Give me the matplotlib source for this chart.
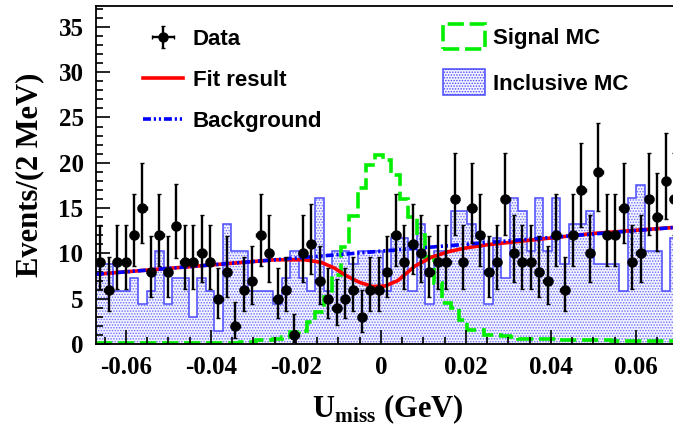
import math
import numpy as np
import matplotlib
matplotlib.use('Agg')
import matplotlib.pyplot as plt
from matplotlib.patches import Patch
from matplotlib.lines import Line2D
from matplotlib.ticker import MultipleLocator

# binning: 69 bins, ~2 MeV each
x_lo, x_hi, n_bins = -0.067, 0.070, 69

# data counts per bin
data_counts = [9, 6, 9, 9, 12, 15, 8, 12, 8, 13, 9, 9, 10, 9, 5, 8, 2, 6,
               7, 12, 10, 5, 6, 1, 10, 11, 7, 5, 4, 5, 6, 3, 6, 6, 8, 12,
               9, 11, 10, 8, 9, 9, 16, 9, 15, 12, 8, 9, 16, 10, 9, 9, 8, 7,
               12, 6, 12, 17, 10, 19, 12, 12, 15, 9, 10, 16, 14, 18, 16]

# inclusive MC (raw counts, scaled to data)
incl_mc_raw = [6, 6, 4, 4, 5, 3, 4, 7, 3, 5, 5, 2, 5, 4, 1, 9, 7, 7,
               4, 4, 4, 3, 5, 7, 5, 4, 11, 4, 7, 7, 6, 7, 7, 7, 4, 8,
               8, 4, 9, 3, 7, 7, 10, 10, 9, 8, 3, 8, 5, 11, 10, 7, 11, 7,
               11, 6, 9, 9, 10, 6, 6, 6, 4, 11, 12, 7, 7, 4, 8]
incl_mc_scale = 1.466

# signal MC shape
signal_mc = [0.1, 0.1, 0.1, 0.1, 0.1, 0.1, 0.1, 0.1, 0.1, 0.1, 0.1, 0.1,
             0.1, 0.1, 0.1, 0.1, 0.1, 0.2, 0.25, 0.4, 0.45, 0.5, 0.8, 1.3,
             1.4, 2.4, 3.5, 5.2, 7.6, 10.7, 14.1, 17.2, 19.8, 20.9, 20.3,
             18.7, 16.0, 14.0, 12.0, 9.6, 6.7, 4.5, 4.0, 2.6, 1.5, 1.5, 1.0,
             1.0, 0.9, 0.8, 0.6, 0.6, 0.5, 0.5, 0.5, 0.45, 0.45, 0.45, 0.4,
             0.4, 0.4, 0.35, 0.35, 0.35, 0.3, 0.3, 0.3, 0.3, 0.3]

# fit result curve
fit_x = [-0.067, -0.040, -0.025, -0.018, -0.014, -0.011, -0.008, -0.005,
         -0.002, 0.001, 0.004, 0.008, 0.012, 0.016, 0.020, 0.025, 0.030,
         0.037, 0.050, 0.070]
fit_y = [7.7, 8.72, 9.29, 9.3, 9.0, 8.4, 7.5, 6.8, 6.35, 6.4, 7.0, 8.6,
         9.6, 10.2, 10.6, 10.95, 11.2, 11.55, 12.2, 12.9]

# background (linear)
bkg_x = [-0.067, 0.070]
bkg_y = [7.7, 12.9]


def pois_cdf(n, mu):
    s, term = 0.0, math.exp(-mu)
    for k in range(n + 1):
        s += term
        term *= mu / (k + 1)
    return s


def solve(f, lo, hi):
    for _ in range(80):
        mid = 0.5 * (lo + hi)
        if f(mid) > 0:
            lo = mid
        else:
            hi = mid
    return 0.5 * (lo + hi)


# Poisson (Garwood) 68% errors
alpha = 0.1587
err_lo, err_hi = [], []
for n in data_counts:
    up = solve(lambda m: pois_cdf(n, m) - alpha, 0.0, n + 40)
    low = 0.0 if n == 0 else solve(lambda m: alpha - (1 - pois_cdf(n - 1, m)), 0.0, n + 40)
    err_lo.append(n - low)
    err_hi.append(up - n)

edges = np.linspace(x_lo, x_hi, n_bins + 1)
centers = 0.5 * (edges[:-1] + edges[1:])
half_w = 0.5 * (edges[1] - edges[0])
incl_mc = np.array(incl_mc_raw) * incl_mc_scale

plt.rcParams['mathtext.fontset'] = 'custom'
plt.rcParams['mathtext.bf'] = 'Liberation Serif:bold'
plt.rcParams['mathtext.rm'] = 'Liberation Serif:bold'
plt.rcParams['hatch.linewidth'] = 0.7

fig = plt.figure(figsize=(6.73, 4.32), dpi=100)
ax = fig.add_axes([96 / 673, 1 - 344 / 432, 582.5 / 673, 338 / 432])

mc_blue = '#4a4aff'
ax.stairs(incl_mc, edges, fill=True, facecolor='#f4f4ff', edgecolor='#6a6aff',
          hatch='......', linewidth=0)
ax.stairs(incl_mc, edges, color=mc_blue, linewidth=1.1, baseline=None)
ax.stairs(signal_mc, edges, color='#00ee00', linewidth=2.6,
          linestyle=(0, (4.5, 1.6)), baseline=None)
ax.plot(fit_x, fit_y, color='#ff0000', linewidth=2.6)
ax.plot(bkg_x, bkg_y, color='#0000ff', linewidth=2.6,
        linestyle=(0, (2.2, 0.8, 0.6, 0.8, 0.6, 0.8)))
eb = ax.errorbar(centers, data_counts, yerr=[err_lo, err_hi], xerr=half_w,
                 fmt='o', color='black', ms=6.5, elinewidth=1.7, capsize=1.5)

ax.set_xlim(x_lo, x_hi)
ax.set_ylim(0, 37.3)
ax.xaxis.set_major_locator(MultipleLocator(0.02))
ax.xaxis.set_minor_locator(MultipleLocator(0.005))
ax.yaxis.set_major_locator(MultipleLocator(5))
ax.yaxis.set_minor_locator(MultipleLocator(1))
ax.tick_params(which='both', direction='in', top=False, right=False, width=1.2)
ax.tick_params(which='major', length=10)
ax.tick_params(which='minor', length=5)
ax.tick_params(axis='y', pad=9)
ax.tick_params(axis='x', pad=9)
for sp in ax.spines.values():
    sp.set_linewidth(1.3)

ax.set_xticks([-0.06, -0.04, -0.02, 0, 0.02, 0.04, 0.06])
ax.set_xticklabels(['-0.06', '-0.04', '-0.02', '0', '0.02', '0.04', '0.06'])
for lab in ax.get_xticklabels() + ax.get_yticklabels():
    lab.set_fontfamily('Liberation Serif')
    lab.set_fontweight('bold')
    lab.set_fontsize(18)

ax.set_ylabel('Events/(2 MeV)', fontsize=22, fontweight='bold',
              family='Liberation Serif', labelpad=10)
ax.set_xlabel(r'U$_{\mathbf{miss}}$ (GeV)', fontsize=22, fontweight='bold',
              family='Liberation Serif', labelpad=9)

leg_font = {'family': 'Liberation Sans', 'weight': 'bold', 'size': 16}
h_fit = Line2D([], [], color='#ff0000', linewidth=2.6)
h_bkg = Line2D([], [], color='#0000ff', linewidth=2.6,
               linestyle=(0, (2.2, 0.8, 0.6, 0.8, 0.6, 0.8)))
leg1 = ax.legend([eb, h_fit, h_bkg], ['Data', 'Fit result', 'Background'],
                 loc='upper left', bbox_to_anchor=(0.065, 0.958), frameon=False,
                 prop=leg_font, handlelength=1.8, handletextpad=0.45,
                 labelspacing=0.9, borderaxespad=0)
ax.add_artist(leg1)
h_sig = Patch(facecolor='none', edgecolor='#00ee00', linewidth=2.6,
              linestyle=(0, (4.5, 1.6)))
h_inc = Patch(facecolor='#f4f4ff', edgecolor=mc_blue, hatch='......', linewidth=1.1)
ax.legend([h_sig, h_inc], ['Signal MC', 'Inclusive MC'], loc='upper left',
          bbox_to_anchor=(0.58, 0.974), frameon=False, prop=leg_font,
          handlelength=1.9, handleheight=1.4, handletextpad=0.35,
          labelspacing=0.9, borderaxespad=0)

fig.savefig('out.png', dpi=100)
